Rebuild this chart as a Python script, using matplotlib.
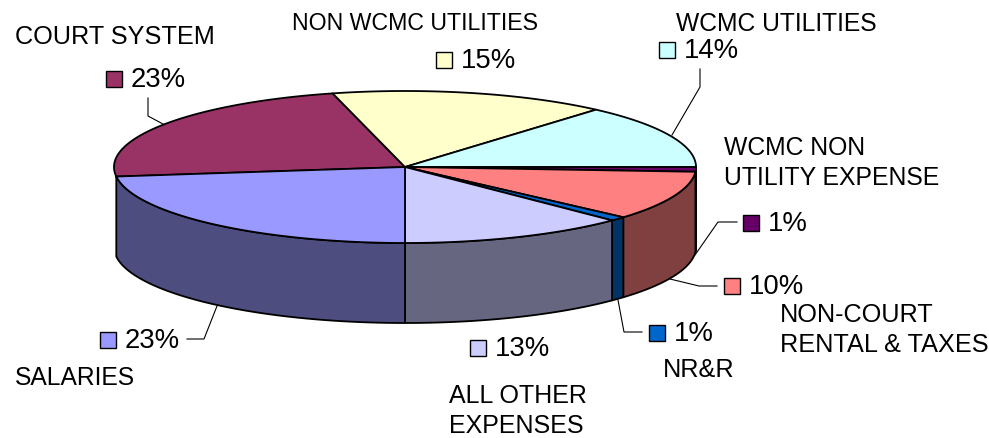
import numpy as np
import matplotlib
matplotlib.use('Agg')
import matplotlib.pyplot as plt
from matplotlib.patches import Polygon, Rectangle

plt.rcParams['font.family'] = ['Liberation Sans', 'DejaVu Sans']

# data, clockwise from the court system slice
categories = ['COURT SYSTEM', 'NON WCMC UTILITIES', 'WCMC UTILITIES',
              'WCMC NON\nUTILITY EXPENSE', 'NON-COURT\nRENTAL & TAXES', 'NR&R',
              'ALL OTHER\nEXPENSES', 'SALARIES']
values = [23, 15.4, 13.6, 1, 10.5, 0.9, 12.6, 23]
top_colors = ['#993366', '#FFFFCC', '#CCFFFF', '#660066', '#FF8080', '#0066CC', '#CCCCFF', '#9999FF']
side_colors = ['#4D1A33', '#808066', '#668080', '#330033', '#804040', '#003366', '#666680', '#4D4D80']

# pie geometry in pixels
cx, cy = 405, 167
rx, ry = 291, 76
depth = 80
start = -97.2

# label positions in pixels
name_pos = [(15, 37), (292, 23), (676, 24), (724, 163), (780, 330), (663, 370), (449, 411), (15, 378)]
name_size = [18.2, 16.7, 17.7, 17.8, 18.2, 18.2, 18.0, 17.7]
key_pos = [(114, 79), (444, 60), (667, 50), (751, 223), (732, 286), (657, 333), (478, 348), (108, 340)]
leaders = [[(148, 98), (148, 116), (163, 124)],
           None,
           [(700, 69), (700, 87), (672, 135)],
           [(737, 222), (718, 222), (695, 255)],
           [(717, 286), (699, 286), (670, 279)],
           [(642, 332), (624, 332), (618, 300)],
           None,
           [(187, 339), (204, 339), (217, 306)]]


def rim(a0, a1, dy=0):
    # points on the ellipse, angle clockwise from the top
    t = np.radians(np.linspace(a0, a1, 120))
    return np.column_stack([cx + rx * np.sin(t), cy - ry * np.cos(t) + dy])


fig = plt.figure(figsize=(9.89, 4.38), dpi=100)
ax = fig.add_axes([0, 0, 1, 1])
ax.set_xlim(0, 989)
ax.set_ylim(438, 0)
ax.axis('off')

edges = start + np.concatenate([[0], np.cumsum(values)]) * 3.6

# side walls, only the front half of the pie shows
for i in range(len(values)):
    a0 = max(edges[i], 90)
    a1 = min(edges[i + 1], 270)
    if a1 <= a0:
        continue
    wall = np.vstack([rim(a0, a1), rim(a0, a1, depth)[::-1]])
    ax.add_patch(Polygon(wall, closed=True, fc=side_colors[i], ec='black', lw=1.3, joinstyle='round'))

# top slices
for i in range(len(values)):
    wedge = np.vstack([[(cx, cy)], rim(edges[i], edges[i + 1])])
    ax.add_patch(Polygon(wedge, closed=True, fc=top_colors[i], ec='black', lw=1.3, joinstyle='round'))

# labels
for i, name in enumerate(categories):
    ax.text(name_pos[i][0], name_pos[i][1], name, fontsize=name_size[i], va='center', ha='left',
            color='black', linespacing=1.35)
    kx, ky = key_pos[i]
    ax.add_patch(Rectangle((kx - 8, ky - 8), 16, 16, fc=top_colors[i], ec='black', lw=1.0))
    ax.text(kx + 17, ky + 1, '%.0f%%' % values[i], fontsize=19.8, va='center', ha='left', color='black')
    if leaders[i] is not None:
        pts = np.array(leaders[i])
        ax.plot(pts[:, 0], pts[:, 1], color='black', lw=0.8)

fig.savefig('out.png', dpi=100)
